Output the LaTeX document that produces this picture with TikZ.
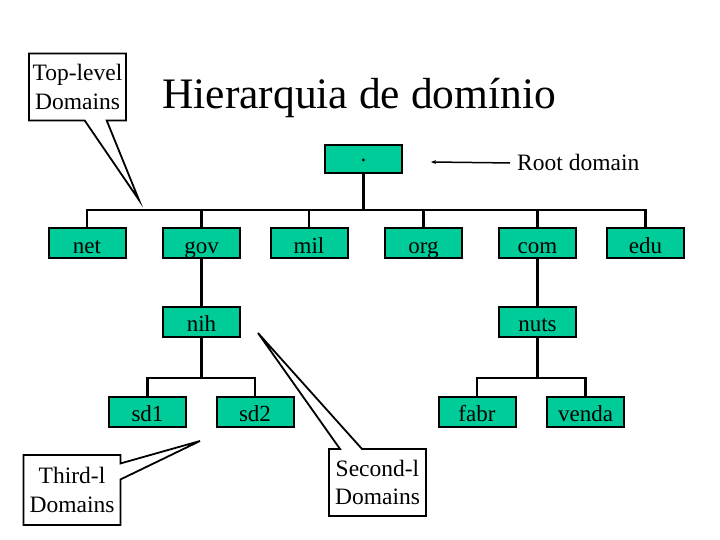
\documentclass[tikz,border=0pt]{standalone}
\usepackage{fontspec}
\setmainfont{Liberation Serif}
\usetikzlibrary{shapes.callouts,arrows.meta}
\definecolor{domgreen}{RGB}{0,204,153}
\begin{document}
\begin{tikzpicture}[x=1pt,y=-1pt,
	dom/.style={draw,line width=2pt,fill=domgreen,minimum width=77pt,minimum height=30pt,inner xsep=0pt,inner ysep=0pt,text height=25pt,text depth=5pt,font=\fontsize{23}{27}\selectfont},
	note/.style={rectangle callout,draw,line width=1.8pt,fill=white,minimum width=97pt,minimum height=67pt,inner sep=1pt,align=center,font=\fontsize{23.5}{28.5}\selectfont,callout pointer width=22pt},
	link/.style={line width=2.2pt}]
	\useasboundingbox (0,0) rectangle (720,540);
	
	\node[anchor=base west,inner sep=0pt,font=\fontsize{43.5}{50}\selectfont] (title) at (162,109) {Hierarquia de domínio};
	
	% root
	\node[dom,minimum height=28pt,text height=17pt,text depth=11pt] (root) at (363.5,159) {.};
	\node[anchor=base west,inner xsep=7pt,inner ysep=0pt,font=\fontsize{23.5}{28}\selectfont] (rootlbl) at (510,171) {Root domain};
	\coordinate (rootptr) at (431,162);
	\draw[line width=1.5pt,-{Stealth[length=5pt,width=4pt]}] (rootlbl.west) -- (rootptr);
	
	% top level
	\node[dom] (net) at (87,243) {net};
	\node[dom] (gov) at (201.5,243) {gov};
	\node[dom] (mil) at (309,243) {mil};
	\node[dom] (org) at (423.5,243) {org};
	\node[dom] (com) at (537.5,243) {com};
	\node[dom] (edu) at (645.5,243) {edu};
	\coordinate (topbar) at (363.5,210);
	\draw[link] (root) -- (topbar);
	\foreach \d in {net,gov,mil,org,com,edu}
		\draw[link] (\d.north) |- (topbar);
	
	% second level
	\node[dom] (nih) at (201.5,321.5) {nih};
	\node[dom] (nuts) at (537.5,321.5) {nuts};
	\draw[link] (gov) -- (nih);
	\draw[link] (com) -- (nuts);
	
	% third level
	\node[dom] (sd1) at (147.5,411.5) {sd1};
	\node[dom] (sd2) at (255,411.5) {sd2};
	\node[dom] (fabr) at (477,411.5) {fabr};
	\node[dom] (venda) at (585.5,411.5) {venda};
	\coordinate (nihbar) at (201.5,378);
	\coordinate (nutsbar) at (537.5,378);
	\draw[link] (nih) -- (nihbar);
	\draw[link] (sd1.north) |- (nihbar);
	\draw[link] (sd2.north) |- (nihbar);
	\draw[link] (nuts) -- (nutsbar);
	\draw[link] (fabr.north) |- (nutsbar);
	\draw[link] (venda.north) |- (nutsbar);
	
	% notes
	\node[note,callout absolute pointer={(139,200)}] (topnote) at (77.5,87) {Top-level\\Domains};
	\node[note,callout absolute pointer={(200,441)},callout pointer width=16pt,minimum height=70pt] (thirdnote) at (72,490) {Third-l\\Domains};
	\node[note,callout absolute pointer={(258,333)}] (secondnote) at (377.5,482.5) {Second-l\\Domains};
	
\end{tikzpicture}
\end{document}
